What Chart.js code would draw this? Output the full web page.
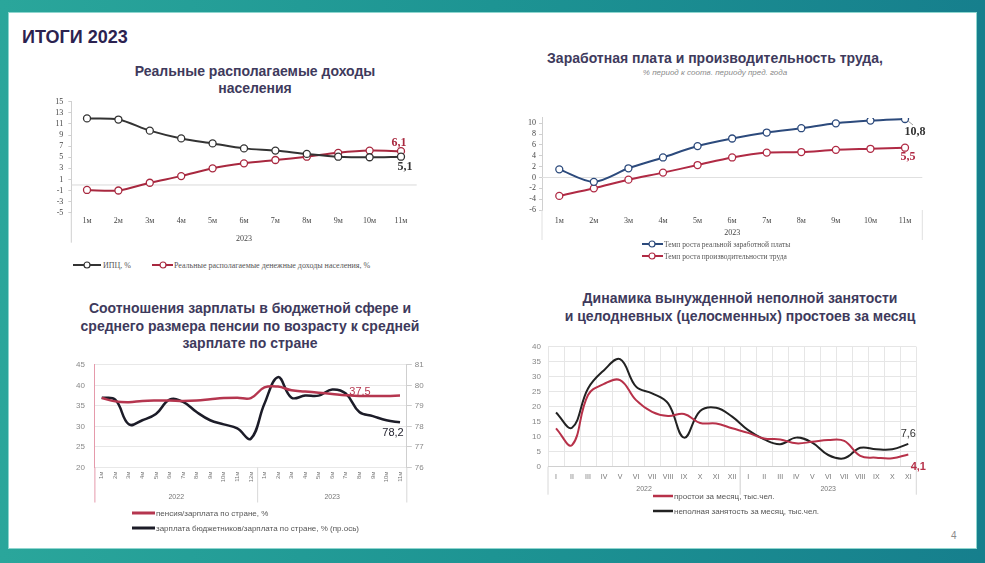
<!DOCTYPE html>
<html><head><meta charset="utf-8">
<script src="https://cdn.jsdelivr.net/npm/chart.js@4.4.0/dist/chart.umd.min.js"></script>
<style>
html,body{margin:0;padding:0;}
body{width:985px;height:563px;position:relative;overflow:hidden;background:linear-gradient(90deg,#2aa69b 0%,#1d9493 50%,#167f8d 100%);font-family:"Liberation Sans",Arial,sans-serif;}
#panel{position:absolute;left:8px;top:12px;width:969px;height:537px;background:#fff;border:1px solid #8fd6cf;box-sizing:border-box;}
.t{position:absolute;font-weight:bold;font-size:14px;color:#3e3a5c;text-align:center;white-space:nowrap;line-height:17px;}
canvas{position:absolute;}
.lg{position:absolute;white-space:nowrap;font-size:8px;color:#555;display:flex;align-items:center;height:12px;}
.lg svg{flex:none;}
</style></head>
<body>
<div id="panel"></div>
<div style="position:absolute;left:22px;top:27px;font-size:18px;font-weight:bold;color:#2b2250;">ИТОГИ 2023</div>
<div style="position:absolute;left:951px;top:530px;font-size:10px;color:#8a8a8a;">4</div>

<div class="t" style="left:105px;top:63px;width:300px;">Реальные располагаемые доходы<br>населения</div>
<div class="t" style="left:515px;top:49.5px;width:400px;">Заработная плата и производительность труда,</div>
<div style="position:absolute;left:565px;top:68px;width:300px;text-align:center;font-size:8px;font-style:italic;color:#8a8a8a;">% период к соотв. периоду пред. года</div>
<div class="t" style="left:50px;top:300px;width:400px;line-height:17.5px;">Соотношения зарплаты в бюджетной сфере и<br>среднего размера пенсии по возрасту к средней<br>зарплате по стране</div>
<div class="t" style="left:540px;top:288.7px;width:400px;line-height:18px;">Динамика вынужденной неполной занятости<br>и целодневных (целосменных) простоев за месяц</div>

<canvas id="c1" width="420" height="160" style="left:20px;top:92px;"></canvas>
<canvas id="c2" width="450" height="145" style="left:490px;top:100px;"></canvas>
<canvas id="c3" width="390" height="160" style="left:40px;top:350px;"></canvas>
<canvas id="c4" width="430" height="165" style="left:505px;top:335px;"></canvas>

<div class="lg" style="left:73px;top:259px;font-family:'Liberation Serif',serif;">
 <svg width="28" height="10"><line x1="0" y1="5" x2="28" y2="5" stroke="#333" stroke-width="2"/><circle cx="14" cy="5" r="3" fill="#fff" stroke="#333" stroke-width="1.2"/></svg><span style="margin-left:2px">ИПЦ, %</span>
</div>
<div class="lg" style="left:152px;top:259px;font-family:'Liberation Serif',serif;">
 <svg width="21" height="10"><line x1="0" y1="5" x2="21" y2="5" stroke="#a8283f" stroke-width="2"/><circle cx="11" cy="5" r="3" fill="#fff" stroke="#a8283f" stroke-width="1.2"/></svg><span style="margin-left:1px">Реальные располагаемые денежные доходы населения, %</span>
</div>

<div class="lg" style="left:642px;top:238px;font-family:'Liberation Serif',serif;font-size:7.5px;">
 <svg width="21" height="10"><line x1="0" y1="5" x2="21" y2="5" stroke="#2c4a7c" stroke-width="2"/><circle cx="10" cy="5" r="3" fill="#fff" stroke="#2c4a7c" stroke-width="1.2"/></svg><span style="margin-left:1px">Темп роста реальной заработной платы</span>
</div>
<div class="lg" style="left:642px;top:250px;font-family:'Liberation Serif',serif;font-size:7.5px;">
 <svg width="21" height="10"><line x1="0" y1="5" x2="21" y2="5" stroke="#b02a44" stroke-width="2"/><circle cx="10" cy="5" r="3" fill="#fff" stroke="#b02a44" stroke-width="1.2"/></svg><span style="margin-left:1px">Темп роста производительности труда</span>
</div>

<div class="lg" style="left:132px;top:507px;">
 <svg width="23" height="10"><line x1="0" y1="5" x2="23" y2="5" stroke="#b5364f" stroke-width="3"/></svg><span style="margin-left:1px">пенсия/зарплата по стране, %</span>
</div>
<div class="lg" style="left:132px;top:522px;">
 <svg width="23" height="10"><line x1="0" y1="5" x2="23" y2="5" stroke="#1c1c28" stroke-width="3"/></svg><span style="margin-left:1px">зарплата бюджетников/зарплата по стране, % (пр.ось)</span>
</div>

<div class="lg" style="left:653px;top:490px;">
 <svg width="20" height="10"><line x1="0" y1="5" x2="20" y2="5" stroke="#b73149" stroke-width="2.5"/></svg><span style="margin-left:1px">простои за месяц, тыс.чел.</span>
</div>
<div class="lg" style="left:653px;top:505px;">
 <svg width="20" height="10"><line x1="0" y1="5" x2="20" y2="5" stroke="#222" stroke-width="2.5"/></svg><span style="margin-left:1px">неполная занятость за месяц, тыс.чел.</span>
</div>

<script>
// ---------- DATA ----------
const months2023 = ['1м','2м','3м','4м','5м','6м','7м','8м','9м','10м','11м'];
const cpi = [12.0, 11.8, 9.8, 8.4, 7.5, 6.6, 6.2, 5.6, 5.1, 5.0, 5.1];
const realIncome = [-0.9, -1.0, 0.4, 1.6, 3.0, 3.9, 4.5, 5.1, 5.8, 6.2, 6.1];

const realWage = [1.5, -0.8, 1.7, 3.7, 5.8, 7.2, 8.3, 9.1, 10.0, 10.5, 10.8];
const productivity = [-3.4, -2.0, -0.4, 0.9, 2.3, 3.7, 4.6, 4.7, 5.1, 5.3, 5.5];
const wageTicks = [-6, -4, -2, 0, 2, 4, 6, 8, 10];

const months22_23 = ['1м','2м','3м','4м','5м','6м','7м','8м','9м','10м','11м','12м',
                     '1м','2м','3м','4м','5м','6м','7м','8м','9м','10м','11м'];
const pensionRatio = [36.9, 36.1, 35.9, 36.2, 36.3, 36.3, 36.2, 36.3, 36.6, 36.9, 37.0, 36.9,
                      39.5, 39.7, 38.8, 38.5, 38.2, 37.9, 37.6, 37.4, 37.4, 37.4, 37.5];
const budgetWageRatio = [79.4, 79.3, 78.1, 78.3, 78.6, 79.3, 79.2, 78.7, 78.3, 78.1, 77.9, 77.4,
                         79.1, 80.4, 79.4, 79.5, 79.5, 79.8, 79.6, 78.7, 78.5, 78.3, 78.2];

const romanMonths = ['I','II','III','IV','V','VI','VII','VIII','IX','X','XI','XII',
                     'I','II','III','IV','V','VI','VII','VIII','IX','X','XI'];
const downtime = [12.8, 7.2, 23.9, 27.6, 28.9, 22.2, 18.3, 16.9, 17.6, 14.6, 14.4, 12.8,
                  11.3, 9.4, 9.1, 7.8, 8.3, 8.9, 8.6, 3.6, 3.0, 2.8, 4.1];
const partTime = [18.1, 13.0, 26.1, 32.2, 35.9, 26.7, 24.5, 21.1, 9.7, 18.6, 19.7, 16.7,
                  12.2, 9.1, 7.5, 9.7, 8.0, 3.9, 2.8, 6.3, 5.8, 5.8, 7.6];
const years = ['2022', '2023'];

// ---------- HELPERS ----------
Chart.defaults.animation = false;
Chart.defaults.font.family = "'Liberation Sans', Arial, sans-serif";
const fmt = v => String(v).replace('.', ',');
function vline(ctx, x, y1, y2, color, w){ctx.save();ctx.strokeStyle=color;ctx.lineWidth=w||1;ctx.beginPath();ctx.moveTo(x,y1);ctx.lineTo(x,y2);ctx.stroke();ctx.restore();}
function hline(ctx, x1, x2, y, color, w){ctx.save();ctx.strokeStyle=color;ctx.lineWidth=w||1;ctx.beginPath();ctx.moveTo(x1,y);ctx.lineTo(x2,y);ctx.stroke();ctx.restore();}
function txt(ctx, s, x, y, font, color, align){ctx.save();ctx.font=font;ctx.fillStyle=color;ctx.textAlign=align||'center';ctx.textBaseline='middle';ctx.fillText(s,x,y);ctx.restore();}
function pt(chart, ds, i){const p = chart.getDatasetMeta(ds).data[i]; return {x:p.x, y:p.y};}
const fixW = w => (s => { s.width = w; });
const fixH = h => (s => { s.height = h; });

// ---------- CHART 1 ----------
new Chart(document.getElementById('c1'), {
  type: 'line',
  data: { labels: months2023, datasets: [
    { data: cpi, borderColor:'#333', borderWidth:2, pointRadius:3.5, pointBorderWidth:1.3, pointBackgroundColor:'#fff', pointBorderColor:'#333', tension:0.3 },
    { data: realIncome, borderColor:'#a8283f', borderWidth:2, pointRadius:3.5, pointBorderWidth:1.3, pointBackgroundColor:'#fff', pointBorderColor:'#a8283f', tension:0.3 }
  ]},
  options: {
    responsive:false, layout:{padding:{top:9.3, right:23.3, left:0, bottom:0}},
    plugins:{legend:{display:false}, tooltip:{enabled:false}},
    scales:{
      x:{ offset:true, grid:{display:false, drawTicks:false}, border:{display:false},
          ticks:{padding:3, font:{family:"'Liberation Serif', serif", size:8}, color:'#444', maxRotation:0, autoSkip:false}, afterFit: fixH(39.3) },
      y:{ min:-5, max:15, grid:{display:true, drawOnChartArea:false, drawTicks:true, tickLength:3, color:'#d0d0d0'}, border:{color:'#d0d0d0'},
          ticks:{stepSize:2, autoSkip:false, padding:5, font:{family:"'Liberation Serif', serif", size:8}, color:'#444'}, afterFit: fixW(51.3) }
    }
  },
  plugins:[{ id:'d1',
    beforeDatasetsDraw(chart){ const c=chart.ctx,a=chart.chartArea; const y0=chart.scales.y.getPixelForValue(0);
      hline(c,a.left,a.right,y0,'#d9d9d9',1); vline(c,a.left,a.bottom,a.bottom+30,'#d0d0d0',1); },
    afterDatasetsDraw(chart){ const c=chart.ctx,a=chart.chartArea,xs=chart.scales.x; const n=months2023.length-1;
      txt(c,'2023',(xs.getPixelForValue(0)+xs.getPixelForValue(n))/2,a.bottom+26.3,"8px 'Liberation Serif'",'#444');
      let p=pt(chart,1,n); txt(c,fmt(realIncome[n]),p.x-2,p.y-8,"bold 12px 'Liberation Serif'",'#a8283f');
      p=pt(chart,0,n); txt(c,fmt(cpi[n]),p.x+4,p.y+10,"bold 12px 'Liberation Serif'",'#333'); }
  }]
});

// ---------- CHART 2 ----------
new Chart(document.getElementById('c2'), {
  type: 'line',
  data: { labels: months2023, datasets: [
    { data: realWage, borderColor:'#2c4a7c', borderWidth:2, pointRadius:3.5, pointBorderWidth:1.3, pointBackgroundColor:'#fff', pointBorderColor:'#2c4a7c', tension:0.3 },
    { data: productivity, borderColor:'#b02a44', borderWidth:2, pointRadius:3.5, pointBorderWidth:1.3, pointBackgroundColor:'#fff', pointBorderColor:'#b02a44', tension:0.3 }
  ]},
  options: {
    responsive:false, layout:{padding:{top:17.9, right:17.7, left:0, bottom:0}},
    plugins:{legend:{display:false}, tooltip:{enabled:false}},
    scales:{
      x:{ offset:true, grid:{display:false, drawTicks:false}, border:{display:false},
          ticks:{padding:6, font:{family:"'Liberation Serif', serif", size:8}, color:'#444', maxRotation:0, autoSkip:false}, afterFit: fixH(35) },
      y:{ min:-6, max:11, grid:{display:true, drawOnChartArea:false, drawTicks:true, tickLength:3, color:'#d0d0d0'}, border:{color:'#d0d0d0'},
          afterBuildTicks: s => { s.ticks = wageTicks.map(v => ({value:v})); },
          ticks:{autoSkip:false, padding:3, font:{family:"'Liberation Serif', serif", size:8}, color:'#444'}, afterFit: fixW(52) }
    }
  },
  plugins:[{ id:'d2',
    beforeDatasetsDraw(chart){ const c=chart.ctx,a=chart.chartArea; const y0=chart.scales.y.getPixelForValue(0);
      hline(c,a.left,a.right,y0,'#e0e0e0',1); vline(c,a.left,a.bottom,a.bottom+30,'#e0e0e0',1); vline(c,a.right,a.bottom,a.bottom+30,'#e0e0e0',1); },
    afterDatasetsDraw(chart){ const c=chart.ctx,a=chart.chartArea,xs=chart.scales.x; const n=months2023.length-1;
      txt(c,'2023',(xs.getPixelForValue(0)+xs.getPixelForValue(n))/2,a.bottom+23,"8px 'Liberation Serif'",'#444');
      let p=pt(chart,0,n); c.save(); c.strokeStyle='#888'; c.lineWidth=0.8; c.beginPath(); c.moveTo(p.x+3,p.y+2); c.lineTo(p.x+8,p.y+6); c.stroke(); c.restore();
      txt(c,fmt(realWage[n]),p.x+10,p.y+13,"bold 12px 'Liberation Serif'",'#333');
      p=pt(chart,1,n); txt(c,fmt(productivity[n]),p.x+3,p.y+9,"bold 12px 'Liberation Serif'",'#b02a44'); }
  }]
});

// ---------- CHART 3 ----------
new Chart(document.getElementById('c3'), {
  type: 'line',
  data: { labels: months22_23, datasets: [
    { data: pensionRatio, yAxisID:'y', borderColor:'#b5364f', borderWidth:2.5, pointRadius:0, tension:0.4 },
    { data: budgetWageRatio, yAxisID:'y2', borderColor:'#1c1c28', borderWidth:2.5, pointRadius:0, tension:0.4 }
  ]},
  options: {
    responsive:false, layout:{padding:{top:9, right:0, left:0, bottom:0}},
    plugins:{legend:{display:false}, tooltip:{enabled:false}},
    scales:{
      x:{ offset:true, grid:{display:false, drawTicks:false}, border:{display:false},
          ticks:{padding:4, font:{size:6}, color:'#777', minRotation:90, maxRotation:90, autoSkip:false}, afterFit: fixH(42.5) },
      y:{ position:'left', min:20, max:45, grid:{color:'#e8e8e8', drawTicks:false}, border:{color:'#e59aab'},
          ticks:{stepSize:5, autoSkip:false, padding:10, font:{size:8}, color:'#888'}, afterFit: fixW(54.9) },
      y2:{ position:'right', min:76, max:81, grid:{drawOnChartArea:false, drawTicks:true, tickLength:5, color:'#cfcfcf'}, border:{color:'#cfcfcf'},
          ticks:{stepSize:1, autoSkip:false, padding:3, font:{size:8}, color:'#888'}, afterFit: fixW(23.2) }
    }
  },
  plugins:[{ id:'d3',
    beforeDatasetsDraw(chart){ const c=chart.ctx,a=chart.chartArea,xs=chart.scales.x;
      const mid=(xs.getPixelForValue(11)+xs.getPixelForValue(12))/2;
      vline(c,a.left,a.bottom,a.bottom+35,'#e59aab',1); vline(c,mid,a.bottom,a.bottom+35,'#d8d8d8',1); vline(c,a.right,a.bottom,a.bottom+35,'#d8d8d8',1); },
    afterDatasetsDraw(chart){ const c=chart.ctx,a=chart.chartArea,xs=chart.scales.x; const n=months22_23.length-1;
      txt(c,years[0],(xs.getPixelForValue(0)+xs.getPixelForValue(11))/2,a.bottom+29.5,"7px 'Liberation Sans'",'#777');
      txt(c,years[1],(xs.getPixelForValue(12)+xs.getPixelForValue(n))/2,a.bottom+29.5,"7px 'Liberation Sans'",'#777');
      let p=pt(chart,0,n); txt(c,fmt(pensionRatio[n]),p.x-40,p.y-4,"11px 'Liberation Sans'",'#b5364f');
      p=pt(chart,1,n); txt(c,fmt(budgetWageRatio[n]),p.x-7,p.y+11,"11px 'Liberation Sans'",'#1c1c28'); }
  }]
});

// ---------- CHART 4 ----------
new Chart(document.getElementById('c4'), {
  type: 'line',
  data: { labels: romanMonths, datasets: [
    { data: downtime, borderColor:'#b73149', borderWidth:2, pointRadius:0, tension:0.4 },
    { data: partTime, borderColor:'#222', borderWidth:2, pointRadius:0, tension:0.4 }
  ]},
  options: {
    responsive:false, layout:{padding:{top:11.7, right:18.7, left:0, bottom:0}},
    plugins:{legend:{display:false}, tooltip:{enabled:false}},
    scales:{
      x:{ offset:true, grid:{display:true, offset:true, drawTicks:false, color:'#e6e6e6'}, border:{color:'#d0d0d0'},
          ticks:{padding:6, font:{size:7}, color:'#777', maxRotation:0, autoSkip:false}, afterFit: fixH(33.3) },
      y:{ min:0, max:40, grid:{color:'#e6e6e6', drawTicks:false}, border:{display:false},
          ticks:{stepSize:5, autoSkip:false, padding:7, font:{size:8}, color:'#888'}, afterFit: fixW(43) }
    }
  },
  plugins:[{ id:'d4',
    beforeDatasetsDraw(chart){ const c=chart.ctx,a=chart.chartArea,xs=chart.scales.x;
      const mid=(xs.getPixelForValue(11)+xs.getPixelForValue(12))/2;
      vline(c,a.left,a.bottom,a.bottom+28,'#d8d8d8',1); vline(c,mid,a.bottom,a.bottom+28,'#cfcfcf',1); vline(c,a.right,a.bottom,a.bottom+28,'#d8d8d8',1); },
    afterDatasetsDraw(chart){ const c=chart.ctx,a=chart.chartArea,xs=chart.scales.x; const n=romanMonths.length-1;
      txt(c,years[0],(xs.getPixelForValue(0)+xs.getPixelForValue(11))/2,a.bottom+22.3,"7px 'Liberation Sans'",'#777');
      txt(c,years[1],(xs.getPixelForValue(12)+xs.getPixelForValue(n))/2,a.bottom+22.3,"7px 'Liberation Sans'",'#777');
      let p=pt(chart,1,n); txt(c,fmt(partTime[n]),p.x,p.y-10,"11px 'Liberation Sans'",'#333');
      p=pt(chart,0,n); txt(c,fmt(downtime[n]),p.x+10,p.y+13,"bold 11px 'Liberation Sans'",'#b73149'); }
  }]
});
</script>
</body></html>
